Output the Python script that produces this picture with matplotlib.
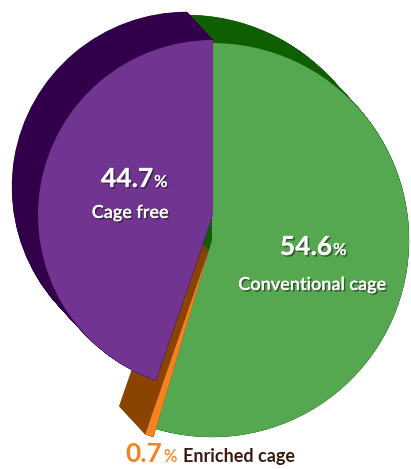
import numpy as np
import matplotlib
matplotlib.use("Agg")
import matplotlib.pyplot as plt
from matplotlib.patches import Wedge
import matplotlib.patheffects as pe

# Share of laying hens by housing system (%)
categories = ["Conventional cage", "Enriched cage", "Cage free"]
shares = [54.6, 0.7, 44.7]
face_colors = ["#55a850", "#f5821f", "#713591"]
side_colors = ["#0f5e02", "#8a4300", "#32004a"]

# Per-slice geometry (centre x, centre y, radius) in pixel space
slice_geom = [(212, 240, 197), (209, 250, 195), (213, 215, 175)]
depth = (-26, -28)  # extrusion direction of the pie's side walls

fig = plt.figure(figsize=(4.11, 4.69), dpi=100)
ax = fig.add_axes([0, 0, 1, 1])
ax.set_xlim(0, 411)
ax.set_ylim(469, 0)
ax.set_aspect("equal")
ax.axis("off")

# Wedge angles: clockwise from 12 o'clock (y axis is inverted)
total = sum(shares)
bounds = np.concatenate([[0], np.cumsum(shares)]) / total * 360.0
angles = [(bounds[i] - 90, bounds[i + 1] - 90) for i in range(len(shares))]

# Side walls: sweep each wedge back along the depth vector
draw_order = [0, 1, 2]
for i in draw_order:
    cx, cy, r = slice_geom[i]
    t1, t2 = angles[i]
    for t in np.linspace(1, 0, 80):
        ax.add_patch(Wedge((cx + depth[0] * t, cy + depth[1] * t), r, t1, t2,
                           facecolor=side_colors[i], edgecolor=side_colors[i],
                           linewidth=0.3, zorder=1 + i))

# Front faces
for i in draw_order:
    cx, cy, r = slice_geom[i]
    t1, t2 = angles[i]
    ax.add_patch(Wedge((cx, cy), r, t1, t2, facecolor=face_colors[i],
                       edgecolor="none", zorder=10 + i))

shadow = [pe.withSimplePatchShadow(offset=(1.2, -1.2), shadow_rgbFace="#1a1a1a",
                                   alpha=0.55), pe.Normal()]
num_font = dict(family="Lato", fontweight="bold")
lab_font = dict(family="Lato", fontweight="semibold")


def value_label(x, y, value, color, fx=None, size=19, pct_size=12):
    effects = fx if fx is not None else []
    ax.text(x, y, f"{value}", ha="right", va="baseline", fontsize=size,
            color=color, path_effects=effects, zorder=30, **num_font)
    ax.text(x + 1, y, "%", ha="left", va="baseline", fontsize=pct_size,
            color=color, path_effects=effects, zorder=30, family="Lato",
            fontweight="semibold")


# Cage free
value_label(153, 187, shares[2], "white", shadow)
ax.text(130, 218, categories[2], ha="center", va="baseline", fontsize=13,
        color="white", path_effects=shadow, zorder=30, **lab_font)

# Conventional cage
value_label(332, 255, shares[0], "white", shadow)
ax.text(312, 290, categories[0], ha="center", va="baseline", fontsize=13,
        color="white", path_effects=shadow, zorder=30, **lab_font)

# Enriched cage
value_label(162, 462, shares[1], "#f5821f")
ax.text(183, 462, categories[1], ha="left", va="baseline", fontsize=13,
        color="#3b1a12", zorder=30, family="Lato", fontweight="bold")

fig.savefig("out.png", dpi=100)
